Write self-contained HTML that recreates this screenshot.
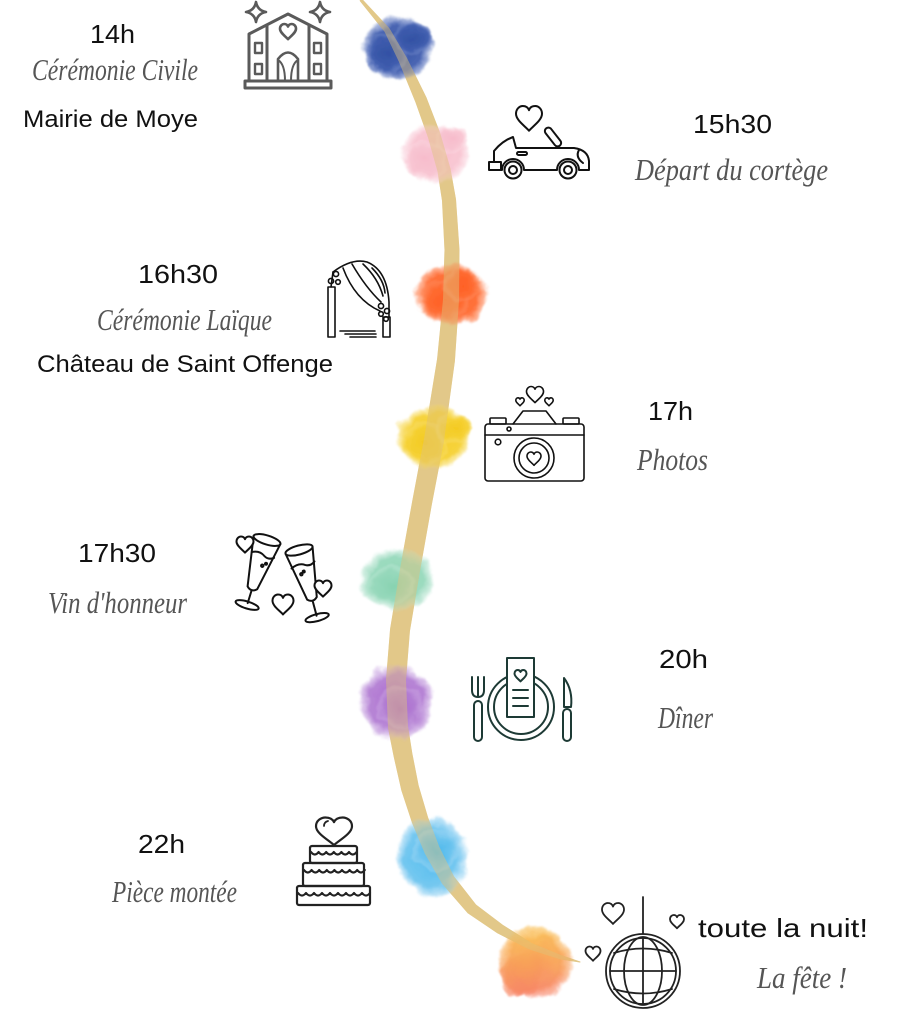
<!DOCTYPE html>
<html><head><meta charset="utf-8">
<style>
html,body{margin:0;padding:0;background:#fff;}
svg{display:block;}
.n{font-family:"Liberation Sans",sans-serif;fill:#111;font-size:26px;}
.s{font-family:"Liberation Serif",serif;font-style:italic;fill:#555;font-size:31px;}
.r{font-family:"Liberation Sans",sans-serif;fill:#111;font-size:24px;}
</style></head>
<body>
<svg width="899" height="1011" viewBox="0 0 899 1011" xmlns="http://www.w3.org/2000/svg">
<defs>
  <path id="h" vector-effect="non-scaling-stroke" d="M0 9 C-3 5.5 -10 1 -10 -4 C-10 -8 -7 -10 -4.8 -10 C-2.2 -10 -0.6 -8.5 0 -6.8 C0.6 -8.5 2.2 -10 4.8 -10 C7 -10 10 -8 10 -4 C10 1 3 5.5 0 9Z"/>
  <filter id="wc" x="-40%" y="-40%" width="180%" height="180%">
    <feTurbulence type="fractalNoise" baseFrequency="0.06" numOctaves="4" seed="7" result="n"/>
    <feDisplacementMap in="SourceGraphic" in2="n" scale="11" xChannelSelector="R" yChannelSelector="G"/>
    <feGaussianBlur stdDeviation="0.8"/>
  </filter>
  <radialGradient id="gBlue"><stop offset="0" stop-color="#21419c"/><stop offset="0.7" stop-color="#3050a8" stop-opacity="0.95"/><stop offset="0.9" stop-color="#5a74bf" stop-opacity="0.6"/><stop offset="1" stop-color="#8aa0d4" stop-opacity="0"/></radialGradient>
  <radialGradient id="gPink"><stop offset="0" stop-color="#f7b6c7"/><stop offset="0.7" stop-color="#f8c0ce" stop-opacity="0.95"/><stop offset="0.9" stop-color="#fad0db" stop-opacity="0.6"/><stop offset="1" stop-color="#fce0e7" stop-opacity="0"/></radialGradient>
  <radialGradient id="gOr"><stop offset="0" stop-color="#ff5210"/><stop offset="0.7" stop-color="#ff5e20" stop-opacity="0.95"/><stop offset="0.9" stop-color="#ff7a45" stop-opacity="0.6"/><stop offset="1" stop-color="#ff9a70" stop-opacity="0"/></radialGradient>
  <radialGradient id="gYel"><stop offset="0" stop-color="#f3c60e"/><stop offset="0.7" stop-color="#f5cd22" stop-opacity="0.95"/><stop offset="0.9" stop-color="#f7d850" stop-opacity="0.6"/><stop offset="1" stop-color="#f9e280" stop-opacity="0"/></radialGradient>
  <radialGradient id="gMint"><stop offset="0" stop-color="#7dcfaa"/><stop offset="0.7" stop-color="#8fd6b7" stop-opacity="0.95"/><stop offset="0.9" stop-color="#aee2cb" stop-opacity="0.6"/><stop offset="1" stop-color="#c8eddd" stop-opacity="0"/></radialGradient>
  <radialGradient id="gPur"><stop offset="0" stop-color="#a057c8"/><stop offset="0.7" stop-color="#ad74d0" stop-opacity="0.95"/><stop offset="0.9" stop-color="#c197dd" stop-opacity="0.6"/><stop offset="1" stop-color="#d6b8ea" stop-opacity="0"/></radialGradient>
  <radialGradient id="gLb"><stop offset="0" stop-color="#3ab2ea"/><stop offset="0.7" stop-color="#62c0ee" stop-opacity="0.95"/><stop offset="0.9" stop-color="#8ed0f3" stop-opacity="0.6"/><stop offset="1" stop-color="#b5e0f7" stop-opacity="0"/></radialGradient>
  <linearGradient id="gPeachL" x1="0" y1="0" x2="0" y2="1"><stop offset="0" stop-color="#f9c040"/><stop offset="0.5" stop-color="#f8994a"/><stop offset="1" stop-color="#f76e5e"/></linearGradient>
  <radialGradient id="gPeachM"><stop offset="0" stop-color="#fff"/><stop offset="0.7" stop-color="#fff" stop-opacity="0.95"/><stop offset="0.9" stop-color="#fff" stop-opacity="0.6"/><stop offset="1" stop-color="#fff" stop-opacity="0"/></radialGradient>
  <mask id="mPeach"><ellipse cx="535" cy="962" rx="38" ry="37" fill="url(#gPeachM)"/><ellipse cx="522" cy="975" rx="22" ry="22" fill="url(#gPeachM)"/></mask>
</defs>

<!-- golden path -->
<polygon id="path" fill="#e2c889" stroke="#e2c889" stroke-width="1" stroke-linejoin="round" points="361.8,-0.7 389.1,28.6 406.6,58.3 426.1,97.9 439.7,133.1 450,168.6 455.5,199.4 459,250 458.5,300.4 454.4,361 443.4,441.6 431.3,504.7 419.4,571.6 409.4,631.2 405.5,680.2 407.5,726.1 411.8,753.3 418.2,785.8 427.5,817.3 438.8,846.8 453.4,876.4 475.8,905 502.4,925.2 531.3,943.3 560.5,955.3 580,962 559.5,958.7 528.7,948.7 497.6,932.8 468.2,913 442.6,883.6 425.2,853.2 412.5,822.7 401.8,790.2 394.2,756.7 388.5,727.9 386.5,679.8 390.6,628.8 400.6,568.4 412.7,501.3 424.6,438.4 437.6,359 443.5,299.6 445,250 442.5,200.6 438,171.4 428.3,136.9 415.9,102.1 399.4,61.7 384.9,31.4 360.2,0.7"/>

<!-- watercolor blobs -->
<g filter="url(#wc)" opacity="0.92">
  <g><ellipse cx="398" cy="48" rx="36" ry="32" fill="url(#gBlue)"/><ellipse cx="386" cy="54" rx="22" ry="20" fill="url(#gBlue)"/><ellipse cx="412" cy="38" rx="20" ry="16" fill="url(#gBlue)"/></g>
  <g><ellipse cx="435" cy="153" rx="36" ry="31" fill="url(#gPink)"/><ellipse cx="425" cy="160" rx="22" ry="20" fill="url(#gPink)"/><ellipse cx="452" cy="140" rx="18" ry="14" fill="url(#gPink)"/></g>
  <g><ellipse cx="451" cy="295" rx="37" ry="32" fill="url(#gOr)"/><ellipse cx="445" cy="300" rx="25" ry="22" fill="url(#gOr)"/><ellipse cx="462" cy="285" rx="20" ry="16" fill="url(#gOr)"/></g>
  <g><ellipse cx="434" cy="437" rx="38" ry="33" fill="url(#gYel)"/><ellipse cx="425" cy="443" rx="24" ry="22" fill="url(#gYel)"/><ellipse cx="454" cy="428" rx="18" ry="15" fill="url(#gYel)"/></g>
  <g><ellipse cx="397" cy="580" rx="38" ry="32" fill="url(#gMint)"/><ellipse cx="392" cy="585" rx="24" ry="20" fill="url(#gMint)"/></g>
  <g><ellipse cx="396" cy="702" rx="37" ry="39" fill="url(#gPur)"/><ellipse cx="400" cy="708" rx="24" ry="22" fill="url(#gPur)"/></g>
  <g><ellipse cx="432" cy="857" rx="37" ry="41" fill="url(#gLb)"/><ellipse cx="436" cy="850" rx="24" ry="22" fill="url(#gLb)"/></g>
  <g mask="url(#mPeach)"><rect x="490" y="920" width="95" height="85" fill="url(#gPeachL)"/></g>
</g>

<!-- path showing through -->
<use href="#path" opacity="0.45"/>

<!-- Church icon -->
<g stroke="#5a5a5a" stroke-width="3" fill="none" stroke-linejoin="round" stroke-linecap="round">
  <path d="M256 2 Q257.5 10.5 266 12 Q257.5 13.5 256 22 Q254.5 13.5 246 12 Q254.5 10.5 256 2Z" stroke-width="2.6"/>
  <path d="M320 2 Q321.5 10.5 330 12 Q321.5 13.5 320 22 Q318.5 13.5 310 12 Q318.5 10.5 320 2Z" stroke-width="2.6"/>
  <rect x="245" y="81" width="86" height="7"/>
  <path d="M249 81 V34 L288 14 L327 34 V81"/>
  <path d="M267 81 V25 M309 81 V25"/>
  <rect x="255" y="43" width="7" height="10" stroke-width="2.4"/>
  <rect x="255" y="64" width="7" height="10" stroke-width="2.4"/>
  <rect x="314" y="43" width="7" height="10" stroke-width="2.4"/>
  <rect x="314" y="64" width="7" height="10" stroke-width="2.4"/>
  <path d="M278 81 V59 Q288 46 298 59 V81" stroke-width="2.6"/>
  <path d="M278 60 Q285 64 285 81 M298 60 Q291 64 291 81" stroke-width="2"/>
  <use href="#h" transform="translate(288,32) scale(0.8)" stroke-width="2.6"/>
</g>

<!-- Car icon -->
<g stroke="#111" stroke-width="2" fill="none" stroke-linejoin="round" stroke-linecap="round">
  <use href="#h" transform="translate(529,119) scale(1.3)"/>
  <rect x="-3.5" y="-11" width="7" height="22" rx="3.5" transform="translate(553,137) rotate(-38)"/>
  <path d="M501 170 H502 A11 11 0 0 1 524 170 H557 A11 11 0 0 1 579 170 H589 V161 Q588 150 574 148 H516 L513 137 Q502 141 494 151 V162"/>
  <rect x="489" y="162" width="12" height="8"/>
  <circle cx="513" cy="170" r="8.5"/><circle cx="513" cy="170" r="4"/>
  <circle cx="568" cy="170" r="8.5"/><circle cx="568" cy="170" r="4"/>
  <rect x="517" y="152" width="10" height="3" rx="1.5"/>
  <path d="M579 150 Q575 157 583 163"/>
</g>

<!-- Arch icon -->
<g stroke="#111" stroke-width="1.6" fill="none" stroke-linejoin="round" stroke-linecap="round">
  <rect x="328" y="287" width="7" height="50"/>
  <rect x="383" y="317" width="7" height="20"/>
  <path d="M333 272 Q352 258 367 262 Q387 270 389 302 V317"/>
  <path d="M343 268 Q355 300 380 311"/>
  <path d="M352 264 Q366 288 381 302"/>
  <path d="M363 264 Q378 278 383 296"/>
  <path d="M372 268 Q384 280 385 293"/>
  <path d="M331 287 L333 272"/>
  <circle cx="336" cy="274" r="2.6"/><circle cx="331" cy="281" r="2.6"/><circle cx="338" cy="282" r="2.3"/>
  <circle cx="381" cy="306" r="2.6"/><circle cx="387" cy="311" r="2.6"/><circle cx="381" cy="314" r="2.3"/><circle cx="386" cy="319" r="2.3"/>
  <path d="M340 331 H375 M345 334 H376 M350 337 H376"/>
</g>

<!-- Camera icon -->
<g stroke="#111" stroke-width="1.6" fill="none" stroke-linejoin="round" stroke-linecap="round">
  <rect x="485" y="424" width="99" height="57" rx="3"/>
  <line x1="485" y1="435" x2="584" y2="435"/>
  <path d="M513 424 L523 411 L546 411 L556 424"/>
  <rect x="490" y="418" width="16" height="6" rx="1"/>
  <rect x="563" y="418" width="16" height="6" rx="1"/>
  <circle cx="509" cy="429" r="2"/>
  <circle cx="498" cy="442" r="2.8"/>
  <circle cx="534" cy="458" r="20"/>
  <circle cx="534" cy="458" r="15"/>
  <use href="#h" transform="translate(534,459) scale(0.7)"/>
  <use href="#h" transform="translate(535,395) scale(0.85)"/>
  <use href="#h" transform="translate(520,402) scale(0.42)"/>
  <use href="#h" transform="translate(549,402) scale(0.42)"/>
</g>

<!-- Champagne icon -->
<g stroke="#111" stroke-width="2" fill="none" stroke-linejoin="round" stroke-linecap="round">
  <g transform="translate(267,540) rotate(17)">
    <ellipse cx="0" cy="0" rx="14" ry="4.5"/>
    <path d="M-14 0 L-5 50 Q0 55 5 50 L14 0"/>
    <path d="M-11 16 Q-4 12 2 16 Q7 19 12 15"/>
    <line x1="0" y1="54" x2="0" y2="66"/>
    <ellipse cx="0" cy="68" rx="12" ry="3.5"/>
    <circle cx="3" cy="26" r="1.2"/><circle cx="6" cy="23" r="1"/>
  </g>
  <g transform="translate(299,550) rotate(-15)">
    <ellipse cx="0" cy="0" rx="14" ry="4.5"/>
    <path d="M-14 0 L-5 50 Q0 55 5 50 L14 0"/>
    <path d="M-12 16 Q-4 12 2 16 Q7 19 12 15"/>
    <line x1="0" y1="54" x2="0" y2="68"/>
    <ellipse cx="0" cy="70" rx="12" ry="3.5"/>
    <circle cx="-4" cy="24" r="1.2"/><circle cx="-1" cy="22" r="1"/>
  </g>
  <use href="#h" transform="translate(245,545) scale(0.85)" fill="#fff"/>
  <use href="#h" transform="translate(323,589) scale(0.85)" fill="#fff"/>
  <use href="#h" transform="translate(283,605) scale(1.05)"/>
</g>

<!-- Dinner icon -->
<g stroke="#1d3a35" stroke-width="2" fill="none" stroke-linejoin="round" stroke-linecap="round">
  <path d="M472 677 V690 Q472 697 478 697 Q484 697 484 690 V677 M478 677 V697"/>
  <rect x="474" y="701" width="8" height="40" rx="4"/>
  <circle cx="521" cy="707" r="33"/>
  <circle cx="521" cy="707" r="27"/>
  <rect x="507" y="658" width="27" height="59" fill="#fff"/>
  <use href="#h" transform="translate(520.5,676) scale(0.6)"/>
  <path d="M513 690 H528 M513 698 H528 M513 706 H528"/>
  <path d="M564 678 Q573 690 571 707 H564 Z"/>
  <rect x="563" y="709" width="8" height="32" rx="4"/>
</g>

<!-- Cake icon -->
<g stroke="#222" stroke-width="2.2" fill="none" stroke-linejoin="round" stroke-linecap="round">
  <use href="#h" transform="translate(334,832) scale(1.8,1.45)"/>
  <path d="M324 826 Q324 822 328 821" stroke-width="1.8"/>
  <rect x="310" y="846" width="47" height="17" rx="2"/>
  <rect x="303" y="863" width="61" height="23" rx="2"/>
  <rect x="297" y="886" width="73" height="19" rx="2"/>
  <path d="M311 852 q3.8 5 7.6 0 q3.8 5 7.6 0 q3.8 5 7.6 0 q3.8 5 7.6 0 q3.8 5 7.6 0 q3.8 5 7.6 0"/>
  <path d="M304 870 q3.8 5 7.6 0 q3.8 5 7.6 0 q3.8 5 7.6 0 q3.8 5 7.6 0 q3.8 5 7.6 0 q3.8 5 7.6 0 q3.8 5 7.6 0 q3.8 5 7.6 0"/>
  <path d="M298 893 q4 5 8 0 q4 5 8 0 q4 5 8 0 q4 5 8 0 q4 5 8 0 q4 5 8 0 q4 5 8 0 q4 5 8 0 q4 5 8 0"/>
</g>

<!-- Disco icon -->
<g stroke="#222" stroke-width="1.8" fill="none" stroke-linejoin="round" stroke-linecap="round">
  <line x1="643" y1="897" x2="643" y2="934"/>
  <circle cx="643" cy="971" r="37"/>
  <circle cx="643" cy="971" r="33"/>
  <ellipse cx="643" cy="971" rx="19" ry="34"/>
  <line x1="643" y1="937" x2="643" y2="1004"/>
  <line x1="610" y1="971" x2="676" y2="971"/>
  <path d="M614 953 Q643 944 672 953"/>
  <path d="M614 989 Q643 998 672 989"/>
  <use href="#h" transform="translate(613,914) scale(1.1)"/>
  <use href="#h" transform="translate(677,922) scale(0.7)"/>
  <use href="#h" transform="translate(593,954) scale(0.75)"/>
</g>

<!-- Texts -->
<text class="n" x="90" y="43" textLength="45" lengthAdjust="spacingAndGlyphs">14h</text>
<text class="s" x="32" y="80" textLength="166" lengthAdjust="spacingAndGlyphs">Cérémonie Civile</text>
<text class="r" x="23" y="127" textLength="175" lengthAdjust="spacingAndGlyphs">Mairie de Moye</text>

<text class="n" x="693" y="133" textLength="79" lengthAdjust="spacingAndGlyphs">15h30</text>
<text class="s" x="635" y="180" textLength="193" lengthAdjust="spacingAndGlyphs">Départ du cortège</text>

<text class="n" x="138" y="283" textLength="80" lengthAdjust="spacingAndGlyphs">16h30</text>
<text class="s" x="97" y="330" textLength="175" lengthAdjust="spacingAndGlyphs">Cérémonie Laïque</text>
<text class="r" x="37" y="372" textLength="296" lengthAdjust="spacingAndGlyphs">Château de Saint Offenge</text>

<text class="n" x="648" y="420" textLength="45" lengthAdjust="spacingAndGlyphs">17h</text>
<text class="s" x="637" y="470" textLength="71" lengthAdjust="spacingAndGlyphs">Photos</text>

<text class="n" x="78" y="562" textLength="78" lengthAdjust="spacingAndGlyphs">17h30</text>
<text class="s" x="48" y="613" textLength="139" lengthAdjust="spacingAndGlyphs">Vin d'honneur</text>

<text class="n" x="659" y="668" textLength="49" lengthAdjust="spacingAndGlyphs">20h</text>
<text class="s" x="658" y="728" textLength="55" lengthAdjust="spacingAndGlyphs">Dîner</text>

<text class="n" x="138" y="853" textLength="47" lengthAdjust="spacingAndGlyphs">22h</text>
<text class="s" x="112" y="902" textLength="125" lengthAdjust="spacingAndGlyphs">Pièce montée</text>

<text class="n" x="698" y="937" textLength="170" lengthAdjust="spacingAndGlyphs">toute la nuit!</text>
<text class="s" x="757" y="988" textLength="90" lengthAdjust="spacingAndGlyphs">La fête !</text>
</svg>
</body></html>
